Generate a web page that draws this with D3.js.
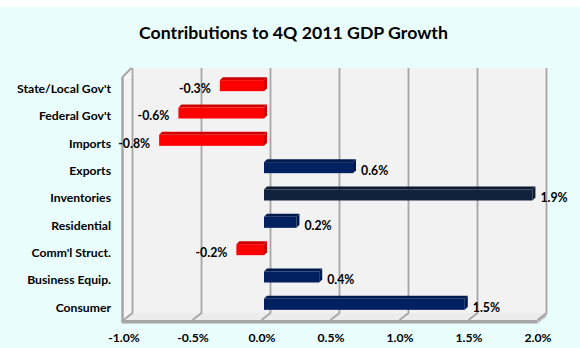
<!DOCTYPE html>
<html><head><meta charset="utf-8">
<script src="https://cdn.jsdelivr.net/npm/d3@7"></script>
<style>
html,body{margin:0;padding:0;background:#e9fdfd;}
svg{display:block;}
text{font-family:Lato,"Open Sans",sans-serif;font-weight:bold;fill:#000;}
</style></head>
<body><svg id="c" width="580" height="348"></svg>
<script>
const title = "Contributions to 4Q 2011 GDP Growth";
const categories = ["State/Local Gov't","Federal Gov't","Imports","Exports","Inventories","Residential","Comm'l Struct.","Business Equip.","Consumer"];
const values = [-0.32, -0.62, -0.76, 0.645, 1.945, 0.235, -0.2, 0.4, 1.455];
const valueLabels = ["-0.3%","-0.6%","-0.8%","0.6%","1.9%","0.2%","-0.2%","0.4%","1.5%"];
const barColors = ["#ff0000","#ff0000","#ff0000","#002060","#10223c","#002060","#ff0000","#002060","#002060"];
const tickValues = [-1, -0.5, 0, 0.5, 1, 1.5, 2];
const tickLabels = ["-1.0%","-0.5%","0.0%","0.5%","1.0%","1.5%","2.0%"];

const svg = d3.select("#c");
svg.append("rect").attr("x",0).attr("y",0).attr("width",580).attr("height",7).attr("fill","#ffffff");

svg.append("text").attr("x",293.5).attr("y",39).attr("text-anchor","middle")
  .style("font-size","17.7px").text(title);

const dx = 9, dy = 7; // 3D depth offset (back vs front)
const xFront = d3.scaleLinear().domain([-1,2]).range([123.5,537.5]);
const xBack = d3.scaleLinear().domain([-1,2]).range([132.5,546.5]);
const xBar = d3.scaleLinear().domain([-1,2]).range([126,540]);
const y = d3.scaleBand().domain(categories).range([75,321]);

const backTop = 68, backBot = 313, frontBot = 320;

// back wall
svg.append("rect").attr("x",xBack(-1)).attr("y",backTop).attr("width",xBack(2)-xBack(-1)).attr("height",backBot-backTop).attr("fill","#f2f2f2");
// left wall
svg.append("polygon").attr("points",[[xFront(-1)-0.5,backTop+dy],[xBack(-1),backTop],[xBack(-1),backBot],[xFront(-1)-0.5,frontBot]].join(" "))
  .attr("fill","#f4f4f4");
svg.append("path").attr("d",`M${xFront(-1)-1},${backTop+dy+2} L${xFront(-1)-1},${frontBot+2}`).attr("stroke","#a6a6a6").attr("stroke-width",2.5);
svg.append("path").attr("d",`M${xFront(-1)-1},${backTop+dy+2} L${xBack(-1)-1},${backTop}`).attr("stroke","#a6a6a6").attr("stroke-width",2);
// floor
svg.append("polygon").attr("points",[[xBack(-1),backBot],[xBack(2),backBot],[xFront(2),frontBot],[xFront(-1),frontBot]].join(" ")).attr("fill","#ececec");
svg.append("polygon").attr("points",[[xFront(-1)-2,frontBot],[xFront(2),frontBot],[xFront(2),frontBot+3.5],[xFront(-1)-2,frontBot+3.5]].join(" ")).attr("fill","#a6a6a6");
svg.append("polygon").attr("points",[[xFront(2),frontBot],[xBack(2),backBot],[xBack(2),backBot+3.5],[xFront(2),frontBot+3.5]].join(" ")).attr("fill","#bdbdbd");

// gridlines
svg.append("g").selectAll("path").data(tickValues).join("path")
  .attr("d",d=>`M${xBack(d)},${backTop} L${xBack(d)},${backBot} L${xFront(d)},${frontBot}`)
  .attr("fill","none").attr("stroke","#a6a6a6").attr("stroke-width",1.8);

// bars (3D)
const bd = 3;
const data = categories.map((c,i)=>({c, v:values[i], label:valueLabels[i], color:barColors[i]}));
const bars = svg.append("g").selectAll("g").data(data).join("g");
bars.each(function(d){
  const g = d3.select(this);
  const x0 = xBar(Math.min(0,d.v)), x1 = xBar(Math.max(0,d.v));
  const yc = y(d.c) + y.bandwidth()/2;
  const t = yc - 8.5, b = yc + 2.5;
  const dark = d3.color(d.color).darker(0.6);
  g.append("polygon").attr("points",[[x0,t],[x0+bd,t-bd],[x1+bd,t-bd],[x1,t]].join(" ")).attr("fill",dark);
  g.append("polygon").attr("points",[[x1,t],[x1+bd,t-bd],[x1+bd,b-bd],[x1,b]].join(" ")).attr("fill",dark);
  g.append("rect").attr("x",x0).attr("y",t).attr("width",x1-x0).attr("height",b-t).attr("fill",d.color);
  if (d.v < 0) {
    g.append("text").attr("x",x0-9).attr("y",yc+4.3).attr("text-anchor","end").style("font-size","12.3px").text(d.label);
  } else {
    g.append("text").attr("x",x1+bd+5).attr("y",yc+4.3).attr("text-anchor","start").style("font-size","12.3px").text(d.label);
  }
});

// category axis labels
svg.append("g").selectAll("text").data(categories).join("text")
  .attr("x",111).attr("y",d=>y(d)+y.bandwidth()/2+4.3).attr("text-anchor","end")
  .style("font-size","12.2px").text(d=>d);

// x axis tick labels
const xAxis = d3.axisBottom(xFront).tickValues(tickValues).tickFormat((d,i)=>tickLabels[i]).tickSize(0).tickPadding(0);
const ax = svg.append("g").attr("transform",`translate(0,${frontBot+18})`).call(xAxis);
ax.select(".domain").remove();
ax.selectAll("text").attr("font-family",null).attr("font-size",null).style("font-size","12.2px").attr("dy","0").attr("y",4.3);
</script></body></html>
